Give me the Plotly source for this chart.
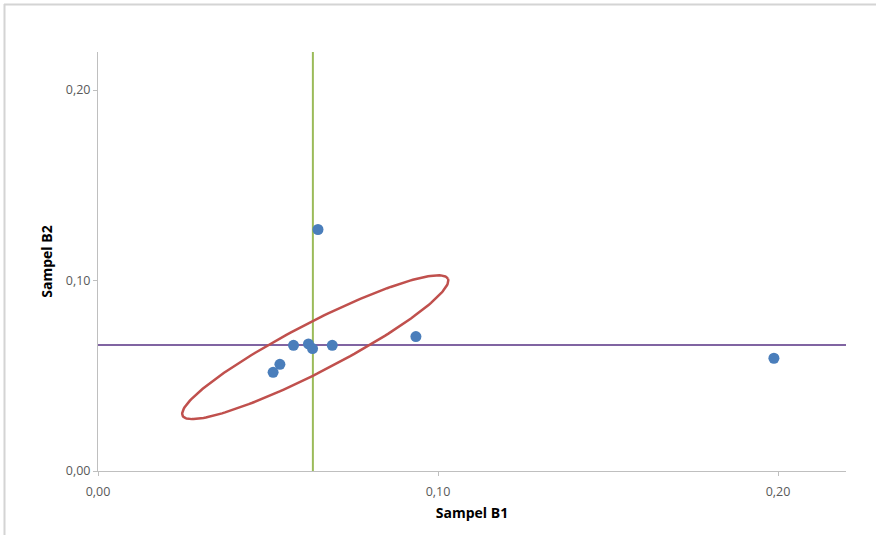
import numpy as np
import plotly.graph_objects as go

# Data
sampel_b1 = [0.0647, 0.0935, 0.1988, 0.0575, 0.0619, 0.0631, 0.0689, 0.0535, 0.0515]
sampel_b2 = [0.1268, 0.0706, 0.0592, 0.0660, 0.0667, 0.0643, 0.0660, 0.0560, 0.0518]
median_b1 = 0.0632
median_b2 = 0.0662
# Ellipse parameters (data units): center, major half-axis vector, minor half-axis vector
ellipse_center = (0.0639, 0.0650)
ellipse_major = (0.0390, 0.0360)
ellipse_minor = (-0.0033, 0.0114)
x_range = [0, 0.22]
y_range = [0, 0.22]
tick_vals = [0.0, 0.10, 0.20]

W, H = 876, 535
L, R, T, B = 98, 30, 52, 64

t = np.linspace(0, 2 * np.pi, 200)
ex = ellipse_center[0] + np.cos(t) * ellipse_major[0] + np.sin(t) * ellipse_minor[0]
ey = ellipse_center[1] + np.cos(t) * ellipse_major[1] + np.sin(t) * ellipse_minor[1]

fig = go.Figure()
fig.add_trace(go.Scatter(x=[median_b1, median_b1], y=y_range, mode="lines",
                         line=dict(color="#9BBB59", width=2), hoverinfo="skip"))
fig.add_trace(go.Scatter(x=x_range, y=[median_b2, median_b2], mode="lines",
                         line=dict(color="#8064A2", width=2), hoverinfo="skip"))
fig.add_trace(go.Scatter(x=ex, y=ey, mode="lines",
                         line=dict(color="#C0504D", width=2.5), hoverinfo="skip"))
fig.add_trace(go.Scatter(x=sampel_b1, y=sampel_b2, mode="markers",
                         marker=dict(color="#4A7EBB", size=11)))

pw, ph = W - L - R, H - T - B
def px(x):
    return (x - L) / pw
def py(y):
    return (H - B - y) / ph

fig.add_shape(type="line", xref="paper", yref="paper",
              x0=px(4.5), x1=px(4.5), y0=py(4), y1=py(H + 5),
              line=dict(color="#d4d4d4", width=2))
fig.add_shape(type="line", xref="paper", yref="paper",
              x0=px(4), x1=px(W + 5), y0=py(4.5), y1=py(4.5),
              line=dict(color="#d4d4d4", width=2))

axis_common = dict(showgrid=False, zeroline=False, showline=True,
                   linecolor="#BFBFBF", linewidth=1, ticks="outside",
                   ticklen=4, tickcolor="#BFBFBF", tickformat=".2f",
                   tickvals=tick_vals,
                   tickfont=dict(family="Open Sans, sans-serif", size=12.5, color="#595959"))

fig.update_layout(
    width=W, height=H,
    margin=dict(l=L, r=R, t=T, b=B),
    plot_bgcolor="white", paper_bgcolor="white",
    showlegend=False,
    separators=", ",
    xaxis=dict(range=x_range, ticklabelstandoff=5,
               title=dict(text="<b>Sampel B1</b>", standoff=9,
               font=dict(family="Open Sans, sans-serif", size=14, color="#000000")),
               **axis_common),
    yaxis=dict(range=y_range, title=dict(text="<b>Sampel B2</b>", standoff=9,
               font=dict(family="Open Sans, sans-serif", size=14, color="#000000")),
               **axis_common),
)

fig.write_html("out.html", config={"displayModeBar": False},
               post_script="document.body.style.margin='0';document.body.style.overflow='hidden';")
